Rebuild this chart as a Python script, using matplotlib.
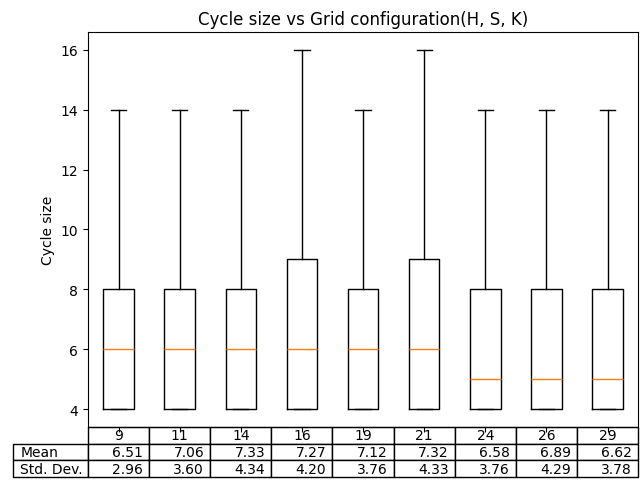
import matplotlib
matplotlib.use('Agg')
import matplotlib.pyplot as plt

# grid configurations (H, S, K) summarised by cycle count
configs = ['9', '11', '14', '16', '19', '21', '24', '26', '29']
whislo = [4, 4, 4, 4, 4, 4, 4, 4, 4]
q1 = [4, 4, 4, 4, 4, 4, 4, 4, 4]
med = [6, 6, 6, 6, 6, 6, 5, 5, 5]
q3 = [8, 8, 8, 9, 8, 9, 8, 8, 8]
whishi = [14, 14, 14, 16, 14, 16, 14, 14, 14]
means = ['6.51', '7.06', '7.33', '7.27', '7.12', '7.32', '6.58', '6.89', '6.62']
stds = ['2.96', '3.60', '4.34', '4.20', '3.76', '4.33', '3.76', '4.29', '3.78']

stats = []
for i in range(len(configs)):
    stats.append({'whislo': whislo[i], 'q1': q1[i], 'med': med[i],
                  'q3': q3[i], 'whishi': whishi[i], 'fliers': [],
                  'label': configs[i]})

fig, ax = plt.subplots(figsize=(6.4, 4.85), dpi=100)
fig.subplots_adjust(left=0.1375, right=0.997, top=0.932, bottom=0.1175)

ax.bxp(stats)
ax.set_xticklabels([''] * len(configs))

ax.table(cellText=[means, stds], rowLabels=['Mean', 'Std. Dev.'],
         colLabels=configs, loc='bottom')

ax.set_ylabel('Cycle size')
ax.set_title('Cycle size vs Grid configuration(H, S, K)')

plt.savefig('out.png')
